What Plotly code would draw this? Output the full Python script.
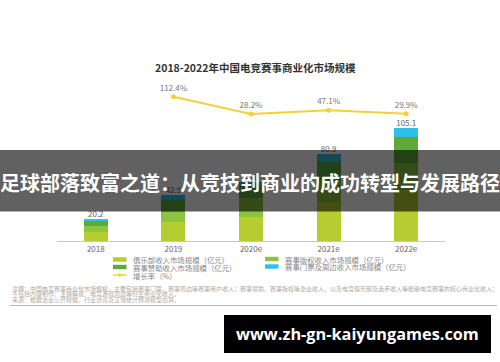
import plotly.graph_objects as go

# ---------------- data ----------------
years = ["2018", "2019", "2020e", "2021e", "2022e"]
club = [8.4, 17.7, 22.6, 36.3, 47.7]        # 俱乐部收入
rights = [5.6, 9.5, 17.4, 20.5, 25.0]       # 赛事版权收入
sponsor = [4.7, 11.1, 11.2, 16.7, 24.0]     # 赛事赞助收入
ticket = [1.5, 4.6, 3.8, 7.4, 8.4]          # 赛事门票及周边收入
totals = [20.2, 42.9, 55.0, 80.9, 105.1]
growth_years = ["2019", "2020e", "2021e", "2022e"]
growth = [112.4, 28.2, 47.1, 29.9]
series_names = ["俱乐部收入市场规模（亿元）", "赛事版权收入市场规模（亿元）",
                "赛事赞助收入市场规模（亿元）", "赛事门票及周边收入市场规模（亿元）",
                "增长率（%）"]
title_text = "2018-2022年中国电竞赛事商业化市场规模"
notes = ["注释：中国电竞赛事商业化市场规模，主要包括赛事门票、赛事周边等赛事用户收入；赛事赞助、赛事版权等企业收入，以及电竞俱乐部及选手收入等能够电竞赛事的核心商业化收入；",
         "不包括内容制作、主播解说、电竞游戏周边等衍生商业化收入。",
         "来源：根据企业公开财报、行业访谈及艾瑞统计预测模型估算。"]
banner_text = "足球部落致富之道：从竞技到商业的成功转型与发展路径"
watermark_text = "www.zh-gn-kaiyungames.com"

# ---------------- style ----------------
W, H = 500, 362
L, R, T, B = 57, 55, 90, 121
PW, PH = W - L - R, H - T - B
colors = ["#b5cd31", "#8cc43e", "#5fa83c", "#2fc0ea"]
line_color = "#f2d13c"
CJK = "Noto Sans CJK SC"


def px(x):
    return (x - L) / PW


def py(y):
    return (H - B - y) / PH


fig = go.Figure()
for vals, name, c in zip([club, rights, sponsor, ticket], series_names[:4], colors):
    fig.add_trace(go.Bar(x=years, y=vals, name=name, marker=dict(color=c, line=dict(width=0)),
                         showlegend=False))

fig.add_trace(go.Scatter(x=years, y=totals, mode="text", text=[f"{v:.1f}" for v in totals],
                         textposition="top center", cliponaxis=False,
                         textfont=dict(size=8, color="#666", family=CJK), showlegend=False))

fig.add_trace(go.Scatter(x=growth_years, y=growth, yaxis="y2", mode="lines+markers+text",
                         name=series_names[4], cliponaxis=False,
                         line=dict(color=line_color, width=2),
                         marker=dict(color=line_color, size=5),
                         text=[f"{v:.1f}%" for v in growth], textposition="top center",
                         textfont=dict(size=8, color="#777", family=CJK), showlegend=False))

shapes = []
ann = []

# title
ann.append(dict(x=px(255.5), y=py(67), xref="paper", yref="paper", text=f"<b>{title_text}</b>",
                showarrow=False, xanchor="center", yanchor="middle",
                font=dict(size=10.5, color="#333", family=CJK)))

# manual legend
leg = [(113, 259.5, 0), (265, 259, 1), (113, 267, 2), (265, 266.5, 3)]
for x0, yc, i in leg:
    shapes.append(dict(type="rect", xref="paper", yref="paper",
                       x0=px(x0), x1=px(x0 + 13.5), y0=py(yc - 2.2), y1=py(yc + 2.2),
                       fillcolor=colors[i], line=dict(width=0)))
    ann.append(dict(x=px(x0 + 17.5), y=py(yc), xref="paper", yref="paper", text=series_names[i],
                    showarrow=False, xanchor="left", yanchor="middle",
                    font=dict(size=7.4, color="#888", family=CJK)))
shapes.append(dict(type="line", xref="paper", yref="paper", x0=px(113), x1=px(126.5),
                   y0=py(275), y1=py(275), line=dict(color=line_color, width=1.5)))
shapes.append(dict(type="circle", xref="paper", yref="paper", x0=px(118), x1=px(121.5),
                   y0=py(276.7), y1=py(273.3), fillcolor=line_color, line=dict(width=0)))
ann.append(dict(x=px(130.5), y=py(275), xref="paper", yref="paper", text=series_names[4],
                showarrow=False, xanchor="left", yanchor="middle",
                font=dict(size=7.4, color="#888", family=CJK)))

# notes
for k, (t, yy) in enumerate(zip(notes, [288.5, 293.8, 299])):
    ann.append(dict(x=px(10), y=py(yy), xref="paper", yref="paper", text=t, showarrow=False,
                    xanchor="left", yanchor="middle",
                    font=dict(size=6, color="#aaa", family=CJK)))
shapes.append(dict(type="line", xref="paper", yref="paper", x0=px(10), x1=px(497),
                   y0=py(305.5), y1=py(305.5), line=dict(color="#bbb", width=1)))

# banner overlay
shapes.append(dict(type="rect", xref="paper", yref="paper", x0=px(-2), x1=px(502),
                   y0=py(211.5), y1=py(150), fillcolor="rgba(0,0,0,0.62)", line=dict(width=0),
                   layer="above"))
ann.append(dict(x=px(250), y=py(182), xref="paper", yref="paper", text=f"<b>{banner_text}</b>",
                showarrow=False, xanchor="center", yanchor="middle",
                font=dict(size=20, color="white", family=CJK)))

# watermark
shapes.append(dict(type="rect", xref="paper", yref="paper", x0=px(224), x1=px(491),
                   y0=py(353), y1=py(315), fillcolor="black", line=dict(width=0), layer="above"))
ann.append(dict(x=px(357), y=py(334), xref="paper", yref="paper", text=f"<b>{watermark_text}</b>",
                showarrow=False, xanchor="center", yanchor="middle",
                font=dict(size=16.3, color="white", family="Open Sans")))

fig.update_layout(
    width=W, height=H, margin=dict(l=L, r=R, t=T, b=B),
    paper_bgcolor="white", plot_bgcolor="white",
    barmode="stack", bargap=0.69,
    xaxis=dict(showline=True, linecolor="#c8c8c8", linewidth=1, showgrid=False, ticks="",
               tickfont=dict(size=8, color="#666", family=CJK), fixedrange=True),
    yaxis=dict(range=[0, 140.5], visible=False, fixedrange=True),
    yaxis2=dict(range=[-591.2, 145.4], overlaying="y", visible=False, fixedrange=True),
    shapes=shapes, annotations=ann, showlegend=False,
)
fig.write_html("out.html", config={"displayModeBar": False},
               post_script="document.body.style.margin='0';document.body.style.overflow='hidden';")
